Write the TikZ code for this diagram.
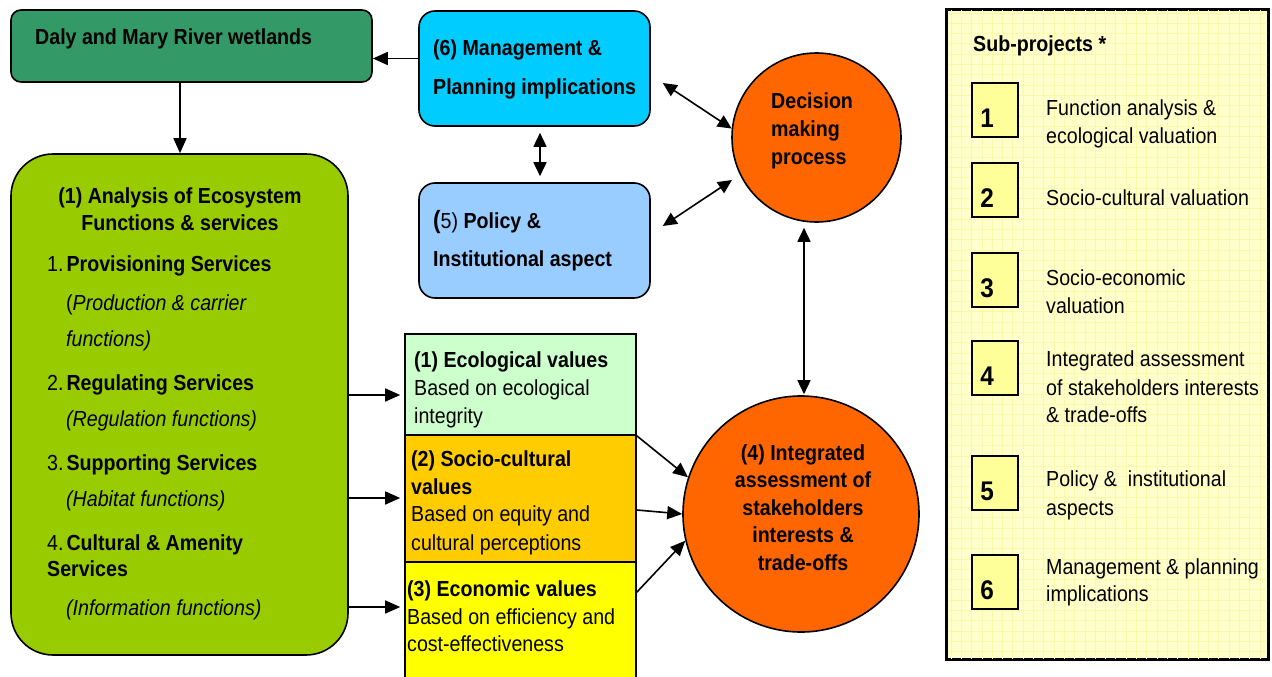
\documentclass[tikz,border=0pt]{standalone}
\usepackage{fontspec}
\setmainfont{Liberation Sans}[FakeStretch=0.9]
\usetikzlibrary{arrows.meta,calc}
\definecolor{dalygreen}{HTML}{339966}
\definecolor{anagreen}{HTML}{99CC00}
\definecolor{mgmtblue}{HTML}{00CCFF}
\definecolor{polblue}{HTML}{99CCFF}
\definecolor{decorange}{HTML}{FF6600}
\definecolor{ecogreen}{HTML}{CCFFCC}
\definecolor{sociogold}{HTML}{FFCC00}
\definecolor{econyellow}{HTML}{FFFF00}
\definecolor{panelyellow}{HTML}{FFFFCC}
\definecolor{gridyellow}{HTML}{FBF8AA}
\definecolor{numyellow}{HTML}{FFFF99}
\newcommand{\fsz}{\fontsize{21.8}{26}\selectfont}
\begin{document}
\begin{tikzpicture}[x=1pt,y=-1pt,
  box/.style={draw=black, line width=1.6pt, inner sep=0pt},
  arr/.style={line width=1.6pt, -{Triangle[length=15pt,width=13pt]}},
  dbl/.style={line width=1.6pt, {Triangle[length=14pt,width=13pt]}-{Triangle[length=14pt,width=13pt]}},
  t/.style={anchor=base west, inner sep=0pt, font=\fsz},
  tb/.style={t, font=\fsz\bfseries},
  ti/.style={t, font=\fsz\itshape},
  tc/.style={anchor=base, inner sep=0pt, font=\fsz\bfseries},
  num/.style={anchor=base, inner sep=0pt, font=\fontsize{27}{28}\selectfont\bfseries}]
\useasboundingbox (0,0) rectangle (1272,677);

% ---- boxes
\node[box, fill=dalygreen, rounded corners=10pt, minimum width=361pt, minimum height=72pt] (daly) at (191.5,46) {};
\node[box, fill=mgmtblue, rounded corners=16pt, minimum width=231pt, minimum height=115pt] (mgmt) at (534.5,68.5) {};
\node[box, fill=polblue, rounded corners=16pt, minimum width=231pt, minimum height=115pt] (pol) at (534.5,240.5) {};
\node[box, fill=anagreen, rounded corners=42pt, minimum width=337pt, minimum height=501pt] (ana) at (179.5,404.5) {};
\node[box, fill=ecogreen, minimum width=231pt, minimum height=101pt] (eco) at (520.5,384.5) {};
\node[box, fill=sociogold, minimum width=231pt, minimum height=127pt] (socio) at (520.5,498.5) {};
\node[box, fill=econyellow, minimum width=231pt, minimum height=138pt] (econ) at (520.5,631) {};
\node[box, circle, fill=decorange, minimum size=169pt] (dec) at (816.5,137.5) {};
\node[box, circle, fill=decorange, minimum size=236pt] (int) at (801,514) {};

% ---- sub-projects panel
\node[box, fill=panelyellow, minimum width=321pt, minimum height=649pt] (panel) at (1107.5,334.5) {};
\begin{scope}
  \clip (948,11) rectangle (1267,658);
  \foreach \i in {0,...,31} \draw[gridyellow, line width=0.8pt] (951+\i*10.3,10) -- ++(0,649);
  \foreach \j in {0,...,63} \draw[gridyellow, line width=0.8pt] (947,13+\j*10.3) -- ++(321,0);
\end{scope}
\draw[line width=1.6pt] (panel.north west) rectangle (panel.south east);

\foreach \n/\yc in {1/110,2/190,3/280,4/368,5/483,6/582}{
  \node[box, fill=numyellow, minimum width=46pt, minimum height=54pt] (nb\n) at (995,\yc) {};
  \node[num] (nl\n) at (987,\yc+17) {\n};
}

% ---- texts
\node[tb] (tdaly) at (35,45) {Daly and Mary River wetlands};
\node[tb] (tm1) at (433,56) {(6) Management \&};
\node[tb] (tm2) at (433,94) {Planning implications};
\node[t] (tp1) at (433,228) {{\fontsize{25}{26}\selectfont\bfseries(}5) \textbf{Policy \&}};
\node[tb] (tp2) at (433,266) {Institutional aspect};
\node[tb] (td1) at (771,108) {Decision};
\node[tb] (td2) at (771,136) {making};
\node[tb] (td3) at (771,164) {process};

\node[tc] (ta1) at (180,203) {(1) Analysis of Ecosystem};
\node[tc] (ta2) at (180,230) {Functions \& services};
\node[t] (ta3) at (47,271) {1.\hspace{3pt}\textbf{Provisioning Services}};
\node[t] (ta4) at (66,310) {(\textit{Production \& carrier}};
\node[ti] (ta5) at (66,346) {functions)};
\node[t] (ta6) at (47,390) {2.\hspace{3pt}\textbf{Regulating Services}};
\node[ti] (ta7) at (66,426) {(Regulation functions)};
\node[t] (ta8) at (47,470) {3.\hspace{3pt}\textbf{Supporting Services}};
\node[ti] (ta9) at (66,506) {(Habitat functions)};
\node[t] (ta10) at (47,550) {4.\hspace{3pt}\textbf{Cultural \& Amenity}};
\node[tb] (ta11) at (47,576) {Services};
\node[ti] (ta12) at (66,615) {(Information functions)};

\node[tb] (te1) at (414,367) {(1) Ecological values};
\node[t] (te2) at (414,395) {Based on ecological};
\node[t] (te3) at (414,423) {integrity};
\node[tb] (ts1) at (411,466) {(2) Socio-cultural};
\node[tb] (ts2) at (411,494) {values};
\node[t] (ts3) at (411,521) {Based on equity and};
\node[t] (ts4) at (411,550) {cultural perceptions};
\node[tb] (tn1) at (407,596) {(3) Economic values};
\node[t] (tn2) at (407,624) {Based on efficiency and};
\node[t] (tn3) at (407,651) {cost-effectiveness};

\node[tc] (ti1) at (803,460) {(4) Integrated};
\node[tc] (ti2) at (803,487.5) {assessment of};
\node[tc] (ti3) at (803,515) {stakeholders};
\node[tc] (ti4) at (803,542.5) {interests \&};
\node[tc] (ti5) at (803,570) {trade-offs};

\node[tb] (tsub) at (973,52) {Sub-projects *};
\node[t] (s1a) at (1046,115) {Function analysis \&};
\node[t] (s1b) at (1046,143) {ecological valuation};
\node[t] (s2a) at (1046,205) {Socio-cultural valuation};
\node[t] (s3a) at (1046,285) {Socio-economic};
\node[t] (s3b) at (1046,313) {valuation};
\node[t] (s4a) at (1046,366) {Integrated assessment};
\node[t] (s4b) at (1046,395) {of stakeholders interests};
\node[t] (s4c) at (1046,422) {\& trade-offs};
\node[t] (s5a) at (1046,486) {Policy \&\ \ institutional};
\node[t] (s5b) at (1046,515) {aspects};
\node[t] (s6a) at (1046,574) {Management \& planning};
\node[t] (s6b) at (1046,601) {implications};

% ---- connectors
\draw[arr] ([yshift=10pt]mgmt.west) -- ([yshift=10pt]mgmt.west -| daly.east);
\draw[arr] ([xshift=-11.5pt]daly.south) -- ([xshift=-11.5pt]daly.south |- ana.north);
\draw[dbl] ([xshift=5.5pt,yshift=-6pt]mgmt.south) -- ([xshift=5.5pt,yshift=6pt]pol.north);
\draw[dbl] ([xshift=12pt,yshift=-14.5pt]mgmt.east) -- (dec.174);
\draw[dbl] ([xshift=12pt,yshift=14.5pt]pol.east) -- ($(dec.center)+(-84.5,42.5)$);
\draw[dbl, shorten <=5pt, shorten >=1pt] ([xshift=-12.5pt]dec.south) -- ([xshift=3pt]int.north);
\draw[arr, shorten >=4pt] ([yshift=9.5pt]ana.east) -- ([yshift=9.5pt]ana.east -| eco.west);
\draw[arr, shorten >=4pt] ([yshift=-93.5pt]ana.east) -- ([yshift=-93.5pt]ana.east -| socio.west);
\draw[arr, shorten >=4pt] ([yshift=-202.5pt]ana.east) -- ([yshift=-202.5pt]ana.east -| econ.west);
\draw[arr] (eco.south east) -- (int.162);
\draw[arr] ([yshift=-11.5pt]socio.east) -- (int.west);
\draw[arr] ([yshift=-31pt]econ.north east) -- (int.193);
\end{tikzpicture}
\end{document}
